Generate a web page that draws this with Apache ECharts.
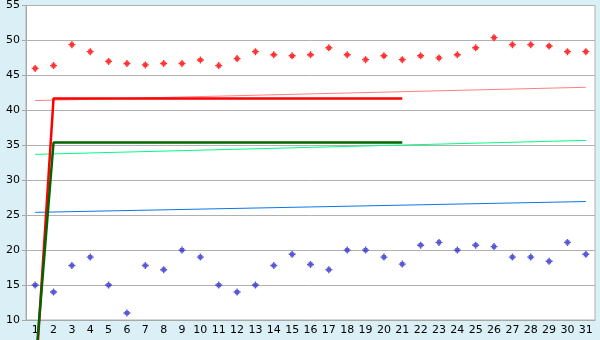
<!DOCTYPE html>
<html>
<head>
<meta charset="utf-8">
<script src="https://cdn.jsdelivr.net/npm/echarts@6/dist/echarts.min.js"></script>
<style>
html,body{margin:0;padding:0;background:#daf0f6;}
#c{width:600px;height:340px;}
</style>
</head>
<body>
<div id="c"></div>
<script>
var days = ['1','2','3','4','5','6','7','8','9','10','11','12','13','14','15','16','17','18','19','20','21','22','23','24','25','26','27','28','29','30','31'];
var redDots = [46.0,46.4,49.4,48.4,47.0,46.7,46.5,46.7,46.7,47.2,46.4,47.4,48.4,47.95,47.8,47.95,48.95,47.95,47.25,47.8,47.25,47.8,47.5,47.95,48.95,50.4,49.4,49.4,49.2,48.4,48.4];
var blueDots = [15,14,17.8,19,15,11,17.8,17.2,20,19,15,14,15,17.8,19.4,17.95,17.2,20,20,19,18,20.7,21.1,20,20.7,20.5,19,19,18.4,21.1,19.4];
// trend lines: [first day index, value], [last day index, value]
var pinkTrend = [[0,41.4],[30,43.3]];
var greenTrend = [[0,33.7],[30,35.7]];
var blueTrend = [[0,25.4],[30,26.95]];
// thick lines: start, corner, end
var redStep = [[0,0.9],[1,41.7],[20,41.7]];
var greenStep = [[0,3.0],[1,35.4],[20,35.4]];
var yTicks = {min:10, max:55, interval:5};

var plus = 'path://M2,0H3V1H4V2H5V3H4V4H3V5H2V4H1V3H0V2H1V1H2Z';
var chart = echarts.init(document.getElementById('c'));
var font = 'DejaVu Sans';
chart.setOption({
  animation:false,
  backgroundColor:'#daf0f6',
  grid:{left:26,right:5,top:5,bottom:20,show:true,backgroundColor:'#ffffff',borderColor:'#b0b0b0',borderWidth:1},
  xAxis:{type:'category',data:days,boundaryGap:true,
    axisLine:{lineStyle:{color:'#a8a8a8'}},
    axisTick:{alignWithLabel:true,length:6,lineStyle:{color:'#333'}},
    axisLabel:{color:'#000',fontFamily:font,fontSize:11,margin:5,interval:0},
    splitLine:{show:false}},
  yAxis:{type:'value',min:yTicks.min,max:yTicks.max,interval:yTicks.interval,
    axisLine:{show:true,lineStyle:{color:'#a8a8a8'}},
    axisTick:{show:true,length:4,lineStyle:{color:'#a8a8a8'}},
    axisLabel:{color:'#000',fontFamily:font,fontSize:11,margin:6},
    splitLine:{lineStyle:{color:'#b0b0b0'}}},
  series:[
    {type:'line',data:pinkTrend,symbol:'none',lineStyle:{color:'#ff8080',width:1},z:2},
    {type:'line',data:greenTrend,symbol:'none',lineStyle:{color:'#00ff80',width:1},z:2},
    {type:'line',data:blueTrend,symbol:'none',lineStyle:{color:'#0a78e6',width:1},z:2},
    {type:'line',data:redStep,symbol:'none',clip:false,lineStyle:{color:'#ff0000',width:2.5},z:3},
    {type:'line',data:greenStep,symbol:'none',clip:false,lineStyle:{color:'#006400',width:2.5},z:4},
    {type:'scatter',data:redDots,symbol:plus,symbolSize:7,itemStyle:{color:'#ff0000'},z:5},
    {type:'scatter',data:blueDots,symbol:plus,symbolSize:7,itemStyle:{color:'#3030cc'},z:5}
  ]
});
</script>
</body>
</html>
